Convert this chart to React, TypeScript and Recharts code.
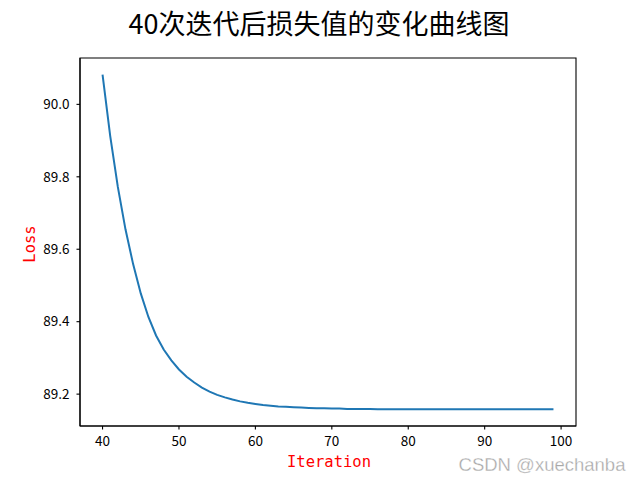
import React from "react";
import { LineChart, Line, XAxis, YAxis, ReferenceArea } from "recharts";

const iterations = [
  40, 41, 42, 43, 44, 45, 46, 47, 48, 49,
  50, 51, 52, 53, 54, 55, 56, 57, 58, 59,
  60, 61, 62, 63, 64, 65, 66, 67, 68, 69,
  70, 71, 72, 73, 74, 75, 76, 77, 78, 79,
  80, 81, 82, 83, 84, 85, 86, 87, 88, 89,
  90, 91, 92, 93, 94, 95, 96, 97, 98, 99,
];

const lossValues = [
  90.082, 89.913, 89.772, 89.655, 89.559, 89.478, 89.413, 89.362, 89.323, 89.293,
  89.268, 89.248, 89.232, 89.218, 89.207, 89.198, 89.191, 89.185, 89.180, 89.176,
  89.173, 89.170, 89.168, 89.166, 89.165, 89.164, 89.163, 89.162, 89.161, 89.161,
  89.160, 89.160, 89.159, 89.159, 89.159, 89.159, 89.158, 89.158, 89.158, 89.158,
  89.158, 89.158, 89.158, 89.158, 89.158, 89.158, 89.158, 89.158, 89.158, 89.158,
  89.158, 89.158, 89.158, 89.158, 89.158, 89.158, 89.158, 89.158, 89.158, 89.158,
];

const xTicks = [40, 50, 60, 70, 80, 90, 100];
const yTicks = [89.2, 89.4, 89.6, 89.8, 90.0];
const xDomain = [37.05, 101.95];
const yDomain = [89.112, 90.128];

const titleText = "40次迭代后损失值的变化曲线图";
const xLabel = "Iteration";
const yLabel = "Loss";
const watermark = "CSDN @xuechanba";

const data = iterations.map((it, i) => ({ it, loss: lossValues[i] }));

const tickFont = { fontFamily: "'Noto Sans CJK SC', sans-serif", fontSize: 13.5, fill: "#000" };

export default function App() {
  return (
    <div style={{ position: "absolute", left: 0, top: 0, width: 640, height: 480, background: "#fff" }}>
      <LineChart
        width={640}
        height={480}
        data={data}
        margin={{ top: 58, right: 64, bottom: 24, left: 20 }}
      >
        <XAxis
          dataKey="it"
          type="number"
          domain={xDomain}
          allowDataOverflow
          ticks={xTicks}
          interval={0}
          height={30}
          tickSize={3.5}
          tickMargin={7}
          axisLine={{ stroke: "#000", strokeWidth: 1.1 }}
          tickLine={{ stroke: "#000", strokeWidth: 1.1 }}
          tick={tickFont}
        />
        <YAxis
          type="number"
          domain={yDomain}
          allowDataOverflow
          ticks={yTicks}
          interval={0}
          width={60}
          tickSize={3.5}
          tickMargin={7}
          tickFormatter={(v: number) => v.toFixed(1)}
          axisLine={{ stroke: "#000", strokeWidth: 1.1 }}
          tickLine={{ stroke: "#000", strokeWidth: 1.1 }}
          tick={tickFont}
        />
        <ReferenceArea
          x1={xDomain[0]}
          x2={xDomain[1]}
          y1={yDomain[0]}
          y2={yDomain[1]}
          fill="none"
          fillOpacity={0}
          stroke="#000"
          strokeWidth={1.1}
          ifOverflow="visible"
        />
        <Line
          type="linear"
          dataKey="loss"
          stroke="#1f77b4"
          strokeWidth={2}
          dot={false}
          isAnimationActive={false}
        />
      </LineChart>
      <svg
        width={640}
        height={480}
        style={{ position: "absolute", left: 0, top: 0, pointerEvents: "none" }}
      >
        <text
          x={319}
          y={34}
          textAnchor="middle"
          fontFamily="'Noto Sans CJK SC', sans-serif"
          fontSize={27}
          fill="#000"
        >
          {titleText}
        </text>
        <text
          x={329}
          y={467}
          textAnchor="middle"
          fontFamily="'DejaVu Sans Mono', monospace"
          fontSize={15.5}
          fill="#ff0000"
        >
          {xLabel}
        </text>
        <text
          x={35}
          y={244}
          textAnchor="middle"
          transform="rotate(-90 35 244)"
          fontFamily="'DejaVu Sans Mono', monospace"
          fontSize={15.5}
          fill="#ff0000"
        >
          {yLabel}
        </text>
        <text
          x={542}
          y={471}
          textAnchor="middle"
          fontFamily="'Liberation Sans', Arial, sans-serif"
          fontSize={18.5}
          fill="#a8a8a8"
          stroke="#ffffff"
          strokeWidth={0.3}
        >
          {watermark}
        </text>
      </svg>
    </div>
  );
}
